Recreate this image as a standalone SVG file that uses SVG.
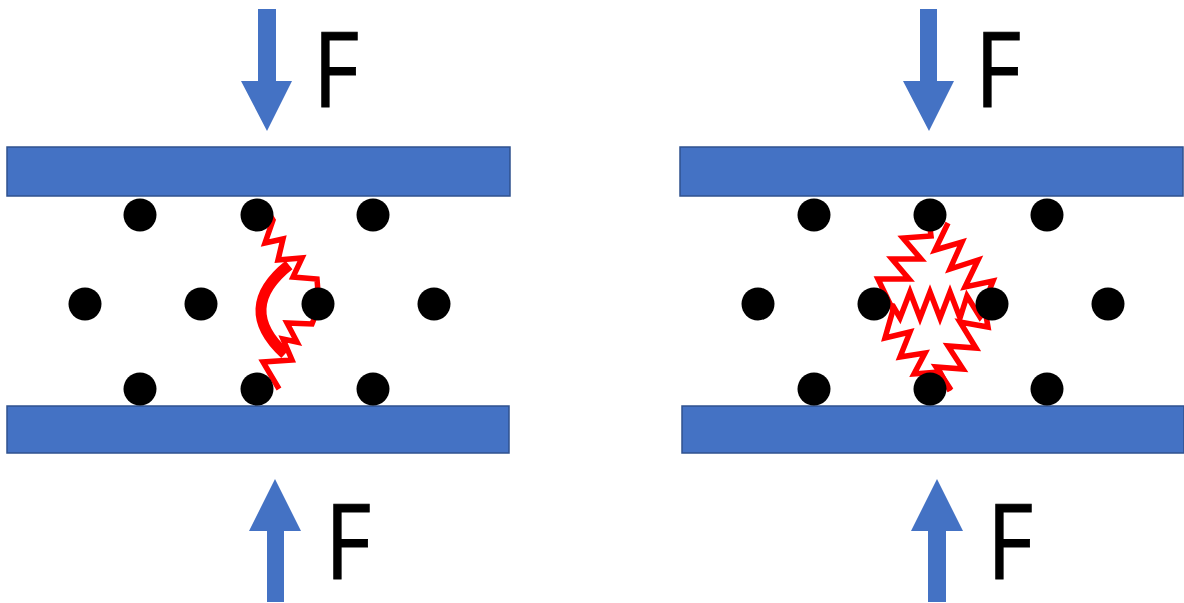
<svg xmlns="http://www.w3.org/2000/svg" width="1184" height="603" viewBox="0 0 1184 603">
<style>
.plate{fill:#4472C4;stroke:#2F528F;stroke-width:1.5}
.arrow{fill:#4472C4}
.dot{fill:#000}
.spring{fill:none;stroke:#FF0000;stroke-width:5.5;stroke-linejoin:miter;stroke-linecap:butt}
.arc{fill:none;stroke:#FF0000;stroke-width:11}
.lbl{font-family:"Open Sans","Liberation Sans",sans-serif;font-size:104px;fill:#000;stroke:#000;stroke-width:1}
</style>
<rect width="1184" height="603" fill="#fff"/>
<g id="left">
  <g id="plate-left-top"><rect class="plate" x="7" y="147" width="503" height="49"/></g>
  <g id="plate-left-bottom"><rect class="plate" x="7" y="406" width="502" height="47"/></g>
  <g id="arrow-left-top"><polygon class="arrow" points="258,9 276,9 276,81 292,81 267,131 241,81 258,81"/></g>
  <g id="arrow-left-bottom"><polygon class="arrow" points="267,602 284,602 284,531 301,531 275,479 249,531 267,531"/></g>
  <g id="label-left-top"><text class="lbl" transform="translate(313,107) scale(0.86,1)">F</text></g>
  <g id="label-left-bottom"><text class="lbl" transform="translate(325,579) scale(0.86,1)">F</text></g>
  <g id="bonds-left">
    <polyline class="spring" points="268,212 273,220 265,243 283,239 278,260 302,258 293,277 317,279 318,292"/>
    <polyline class="spring" points="316,314 312,324 287,323 297,342 283,339 292,360 263,362 279,389"/>
    <path class="arc" d="M289 265 Q235 308 285 354"/>
  </g>
  <g id="dots-left">
    <circle class="dot" cx="140" cy="215" r="16.5"/>
    <circle class="dot" cx="257" cy="215" r="16.5"/>
    <circle class="dot" cx="373" cy="215" r="16.5"/>
    <circle class="dot" cx="85" cy="304" r="16.5"/>
    <circle class="dot" cx="201" cy="304" r="16.5"/>
    <circle class="dot" cx="318" cy="304" r="16.5"/>
    <circle class="dot" cx="434" cy="304" r="16.5"/>
    <circle class="dot" cx="140" cy="389" r="16.5"/>
    <circle class="dot" cx="257" cy="389" r="16.5"/>
    <circle class="dot" cx="373" cy="389" r="16.5"/>
  </g>
</g>
<g id="right">
  <g id="plate-right-top"><rect class="plate" x="680" y="147" width="503" height="49"/></g>
  <g id="plate-right-bottom"><rect class="plate" x="682" y="406" width="502" height="47"/></g>
  <g id="arrow-right-top"><polygon class="arrow" points="920,9 937,9 937,81 954,81 929,131 903,81 920,81"/></g>
  <g id="arrow-right-bottom"><polygon class="arrow" points="928,602 946,602 946,531 963,531 937,479 911,531 928,531"/></g>
  <g id="label-right-top"><text class="lbl" transform="translate(975,107) scale(0.86,1)">F</text></g>
  <g id="label-right-bottom"><text class="lbl" transform="translate(987,579) scale(0.86,1)">F</text></g>
  <g id="bonds-right">
    <polyline class="spring" points="929,220 931,236 903,238 921,259 892,259 909,279 878,279 893,310 885,338 910,332 900,357 925,353 914,374 940,372 950,391"/>
    <polyline class="spring" points="948,223 935,250 962,242 950,269 978,260 965,287 993,281 984,304 988,327 960,322 976,348 948,346 963,369 936,367 951,390"/>
    <polyline class="spring" points="885,304 893,306 900,318 910,292 920,318 930,292 940,318 950,292 960,318 967,296 980,317 990,305"/>
  </g>
  <g id="dots-right">
    <circle class="dot" cx="814" cy="215" r="16.5"/>
    <circle class="dot" cx="930" cy="215" r="16.5"/>
    <circle class="dot" cx="1047" cy="215" r="16.5"/>
    <circle class="dot" cx="758" cy="304" r="16.5"/>
    <circle class="dot" cx="874" cy="304" r="16.5"/>
    <circle class="dot" cx="992" cy="304" r="16.5"/>
    <circle class="dot" cx="1108" cy="304" r="16.5"/>
    <circle class="dot" cx="814" cy="389" r="16.5"/>
    <circle class="dot" cx="930" cy="389" r="16.5"/>
    <circle class="dot" cx="1047" cy="389" r="16.5"/>
  </g>
</g>
</svg>
